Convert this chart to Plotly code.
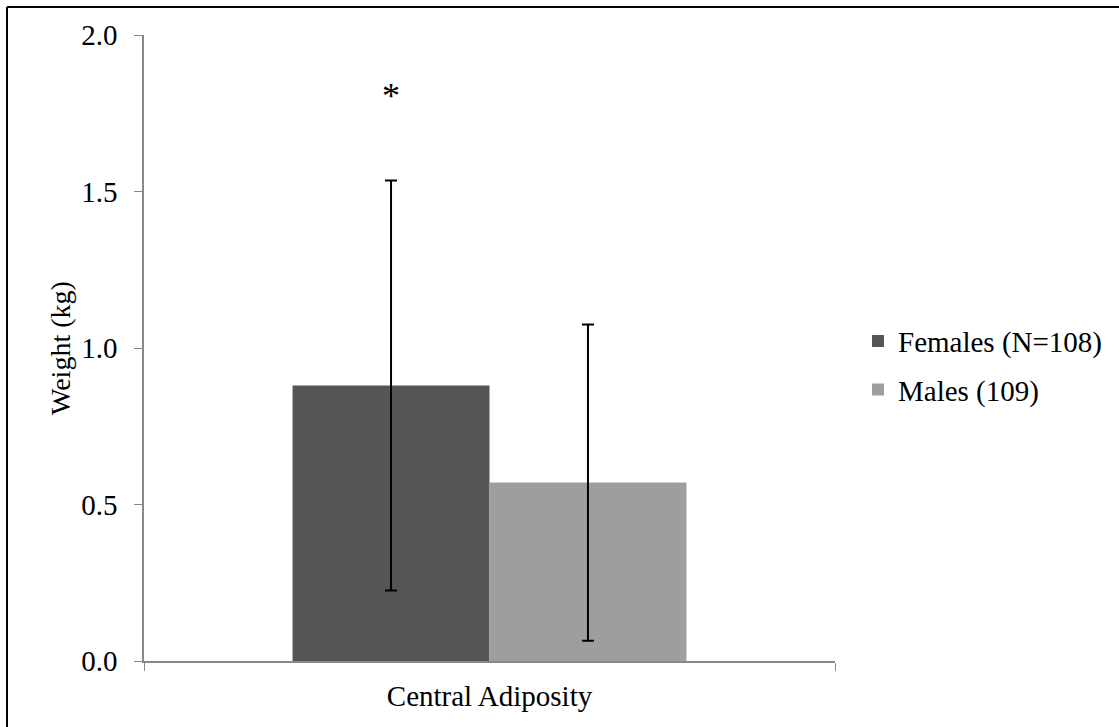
import plotly.graph_objects as go

categories = ["Central Adiposity"]
series_names = ["Females (N=108)", "Males (109)"]
female_vals = [0.88]
male_vals = [0.57]
female_err = [0.655]
male_err = [0.505]
star_y = 1.805
y_ticks = [0.0, 0.5, 1.0, 1.5, 2.0]
y_ticklabels = ["0.0", "0.5", "1.0", "1.5", "2.0"]
y_title = "Weight (kg)"

FONT = "Times New Roman, Liberation Serif, DejaVu Serif, serif"
FS = 29
W, H = 1119, 727
L, R, T, B = 144, 1119 - 835, 35, 727 - 661

fig = go.Figure()
fig.add_trace(go.Bar(
    name=series_names[0], x=categories, y=female_vals, legendgroup="f",
    marker=dict(color="#565656", line=dict(width=0)),
    error_y=dict(type="data", array=female_err, visible=True,
                 color="black", thickness=2, width=6),
))
fig.add_trace(go.Bar(
    name=series_names[1], x=categories, y=male_vals, legendgroup="m",
    marker=dict(color="#9e9e9e", line=dict(width=0)),
    error_y=dict(type="data", array=male_err, visible=True,
                 color="black", thickness=2, width=6),
))

fig.add_annotation(x=-0.1425, y=star_y, xref="x", yref="y", text="*",
                   showarrow=False, font=dict(family=FONT, size=36, color="black"))

pw = W - L - R
ph = H - T - B
# y-axis title placed as rotated text
fig.add_annotation(x=(60 - L) / pw, y=0.5, xref="paper", yref="paper", text=y_title,
                   textangle=-90, showarrow=False, xanchor="center", yanchor="middle",
                   font=dict(family=FONT, size=28, color="black"))

x0 = (7 - L) / pw
y1 = (H - B - 7) / ph
fig.add_shape(type="line", xref="paper", yref="paper", x0=x0, x1=1.6, y0=y1, y1=y1,
              line=dict(color="black", width=2))
fig.add_shape(type="line", xref="paper", yref="paper", x0=x0, x1=x0, y0=y1, y1=-0.5,
              line=dict(color="black", width=2))

fig.update_layout(
    width=W, height=H,
    margin=dict(l=L, r=R, t=T, b=B, autoexpand=False),
    paper_bgcolor="white", plot_bgcolor="white",
    barmode="group", bargap=0.43, bargroupgap=0,
    font=dict(family=FONT, size=FS, color="black"),
    legend=dict(xref="container", x=858 / W, y=0.472, xanchor="left", yanchor="middle",
                traceorder="grouped",
                font=dict(family=FONT, size=FS), itemwidth=30, tracegroupgap=8),
    showlegend=True,
    xaxis=dict(showline=True, linecolor="#888888", linewidth=1.5,
               ticks="outside", tickson="boundaries", ticklen=8, tickcolor="#888888",
               tickfont=dict(family=FONT, size=FS), showgrid=False, zeroline=False,
               ticklabelstandoff=8),
    yaxis=dict(range=[0, 2.0], tickvals=y_ticks, ticktext=y_ticklabels,
               showline=True, linecolor="#888888", linewidth=1.5,
               ticks="outside", ticklen=8, tickcolor="#888888",
               tickfont=dict(family=FONT, size=FS), showgrid=False, zeroline=False,
               ticklabelstandoff=11),
)

fig.write_html("out.html")
